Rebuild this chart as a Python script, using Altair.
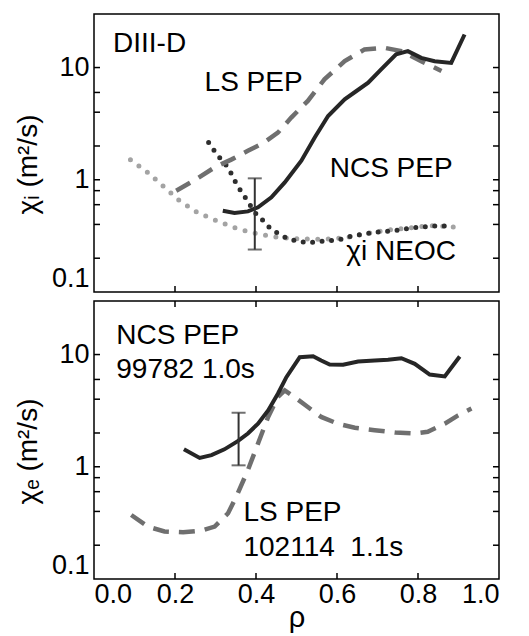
import altair as alt
import pandas as pd

# ---------------- data ----------------
# Top panel: chi_i
ncs_i_x = [0.318, 0.347, 0.380, 0.405, 0.438, 0.471, 0.512, 0.545, 0.578, 0.619, 0.648, 0.677, 0.709, 0.746, 0.775, 0.808, 0.841, 0.882, 0.915]
ncs_i_y = [0.53, 0.506, 0.523, 0.568, 0.697, 0.947, 1.48, 2.38, 3.70, 5.21, 6.18, 7.33, 9.63, 13.1, 14.0, 12.2, 11.4, 11.0, 19.7]

ls_i_x = [0.203, 0.250, 0.298, 0.340, 0.380, 0.420, 0.454, 0.487, 0.528, 0.569, 0.619, 0.668, 0.717, 0.759, 0.808, 0.858]
ls_i_y = [0.798, 1.00, 1.29, 1.52, 1.81, 2.15, 2.63, 3.58, 5.04, 7.85, 11.4, 14.5, 15.0, 14.0, 11.4, 9.3]

neoc_gray_x = [0.090, 0.133, 0.174, 0.211, 0.255, 0.306, 0.356, 0.405, 0.454, 0.508, 0.561, 0.619, 0.668, 0.726, 0.775, 0.833, 0.882, 0.911]
neoc_gray_y = [1.51, 1.16, 0.855, 0.651, 0.512, 0.426, 0.364, 0.329, 0.307, 0.297, 0.295, 0.303, 0.329, 0.357, 0.372, 0.390, 0.382, 0.364]

neoc_black_x = [0.283, 0.298, 0.314, 0.331, 0.354, 0.369, 0.382, 0.397, 0.416, 0.434, 0.454, 0.479, 0.504, 0.531, 0.557, 0.584, 0.611, 0.640, 0.693, 0.742, 0.796, 0.849, 0.878]
neoc_black_y = [2.15, 1.79, 1.51, 1.29, 0.885, 0.736, 0.621, 0.512, 0.438, 0.372, 0.333, 0.297, 0.283, 0.275, 0.283, 0.287, 0.295, 0.318, 0.340, 0.352, 0.377, 0.390, 0.385]

err_i_x = [0.397]
err_i_lo = [0.239]
err_i_hi = [1.03]

# Bottom panel: chi_e
ncs_e_x = [0.222, 0.261, 0.290, 0.322, 0.355, 0.380, 0.405, 0.430, 0.454, 0.475, 0.508, 0.541, 0.561, 0.582, 0.615, 0.652, 0.693, 0.726, 0.759, 0.792, 0.829, 0.866, 0.903]
ncs_e_y = [1.43, 1.20, 1.27, 1.43, 1.69, 1.98, 2.42, 3.18, 4.48, 6.29, 9.47, 9.67, 8.85, 8.15, 8.10, 8.67, 8.85, 9.00, 9.28, 8.27, 6.64, 6.38, 9.60]

ls_e_x = [0.092, 0.133, 0.174, 0.220, 0.265, 0.298, 0.331, 0.355, 0.380, 0.405, 0.430, 0.454, 0.471, 0.495, 0.528, 0.561, 0.602, 0.644, 0.693, 0.744, 0.792, 0.824, 0.866, 0.899, 0.932]
ls_e_y = [0.372, 0.293, 0.265, 0.261, 0.270, 0.293, 0.385, 0.580, 0.934, 1.61, 2.78, 4.18, 4.79, 4.18, 3.41, 2.78, 2.42, 2.23, 2.12, 2.02, 1.98, 2.05, 2.42, 2.87, 3.30]

err_e_x = [0.357]
err_e_lo = [1.03]
err_e_hi = [3.03]

# annotations
top_text = ["DIII-D", "LS PEP", "NCS PEP", "χi NEOC"]
top_text_x = [0.047, 0.273, 0.582, 0.623]
top_text_y = [16.1, 7.33, 1.24, 0.226]

bot_text = ["NCS PEP", "99782 1.0s", "LS PEP", "102114\u00a0 1.1s"]
bot_text_x = [0.055, 0.055, 0.369, 0.369]
bot_text_y = [14.7, 7.21, 0.386, 0.189]

y_label_vals = [0.1, 1, 10]
x_label_vals = [0.0, 0.2, 0.4, 0.6, 0.8, 1.0]
y_tick_vals = [0.2, 0.4, 0.6, 0.8, 1, 2, 4, 6, 10]
x_tick_vals = [0.2, 0.4, 0.6, 0.8]

# ---------------- chart ----------------
W, H = 405, 278
FONT = "Liberation Sans"
TL = 6

xscale = alt.Scale(domain=[0, 1], nice=False, zero=False)
yscale = alt.Scale(type="log", domain=[0.1, 30], nice=False)

GRAY_DOT = "#a3a3a3"
BLACK_DOT = "#2e2e2e"
SOLID = "#262626"
DASH = "#6f6f6f"


def make_panel(ytitle, show_x, series, err, ann, top_ticks):
    xaxis = (alt.Axis(values=x_label_vals, format=".1f", title="ρ", labelPadding=2,
                      titleFontSize=29, titleBaseline="alphabetic", titleY=47)
             if show_x else None)
    yaxis = alt.Axis(values=y_label_vals, format="~g", title=ytitle, labelPadding=5, titlePadding=9,
                     labelFlush=True, titleY=150)

    def X(f):
        return alt.X(f, scale=xscale, axis=xaxis)

    def Y(f):
        return alt.Y(f, scale=yscale, axis=yaxis)

    layers = []
    for xs, ys, color, width, dash, cap in series:
        df = pd.DataFrame({"x": xs, "y": ys, "i": list(range(len(xs)))})
        kw = dict(color=color, strokeWidth=width, strokeCap=cap, clip=True)
        if dash is not None:
            kw["strokeDash"] = dash
        layers.append(alt.Chart(df).mark_line(**kw).encode(x=X("x:Q"), y=Y("y:Q"), order="i:Q"))

    ex, elo, ehi = err
    edf = pd.DataFrame({"x": ex, "lo": elo, "hi": ehi})
    layers.append(alt.Chart(edf).mark_rule(color="#333333", strokeWidth=2).encode(
        x=X("x:Q"), y=Y("lo:Q"), y2="hi:Q"))
    for f in ["lo:Q", "hi:Q"]:
        layers.append(alt.Chart(edf).mark_tick(orient="horizontal", size=14, thickness=2, color="#333333").encode(
            x=X("x:Q"), y=Y(f)))

    labels, tx, ty = ann
    tdf = pd.DataFrame({"t": labels, "x": tx, "y": ty})
    layers.append(alt.Chart(tdf).mark_text(align="left", baseline="middle", font=FONT, fontSize=28,
                                           color="black").encode(x=X("x:Q"), y=Y("y:Q"), text="t:N"))

    ydf = pd.DataFrame({"v": y_tick_vals})
    layers.append(alt.Chart(ydf).mark_rule(color="black", strokeWidth=1.5).encode(
        y=Y("v:Q"), x=alt.value(0), x2=alt.value(TL)))
    layers.append(alt.Chart(ydf).mark_rule(color="black", strokeWidth=1.5).encode(
        y=Y("v:Q"), x=alt.value(W - TL), x2=alt.value(W)))

    xdf = pd.DataFrame({"v": x_tick_vals})
    layers.append(alt.Chart(xdf).mark_rule(color="black", strokeWidth=1.5).encode(
        x=X("v:Q"), y=alt.value(H - TL), y2=alt.value(H)))
    if top_ticks:
        layers.append(alt.Chart(xdf).mark_rule(color="black", strokeWidth=1.5).encode(
            x=X("v:Q"), y=alt.value(0), y2=alt.value(TL)))

    return alt.layer(*layers).properties(width=W, height=H)


top = make_panel(
    "χᵢ (m²/s)", False,
    [
        (neoc_gray_x, neoc_gray_y, GRAY_DOT, 5, [0, 10.5], "round"),
        (neoc_black_x, neoc_black_y, BLACK_DOT, 5, [0, 9.5], "round"),
        (ls_i_x, ls_i_y, DASH, 4.5, [16, 10], "butt"),
        (ncs_i_x, ncs_i_y, SOLID, 4, None, "butt"),
    ],
    (err_i_x, err_i_lo, err_i_hi),
    (top_text, top_text_x, top_text_y),
    False,
)

bottom = make_panel(
    "χₑ (m²/s)", True,
    [
        (ls_e_x, ls_e_y, DASH, 4.5, [16, 10], "butt"),
        (ncs_e_x, ncs_e_y, SOLID, 4, None, "butt"),
    ],
    (err_e_x, err_e_lo, err_e_hi),
    (bot_text, bot_text_x, bot_text_y),
    True,
)

chart = alt.vconcat(top, bottom, spacing=5).properties(
    padding={"left": 5, "top": 5, "right": 5, "bottom": 0},
    background="white",
).configure_view(
    stroke="black", strokeWidth=1.5
).configure_axis(
    domain=False, ticks=False, grid=False,
    labelFont=FONT, labelFontSize=27, labelColor="black",
    titleFont=FONT, titleFontSize=28, titleFontWeight="normal", titleColor="black",
)

chart.save("out.html", embed_options={"renderer": "svg", "actions": False})
